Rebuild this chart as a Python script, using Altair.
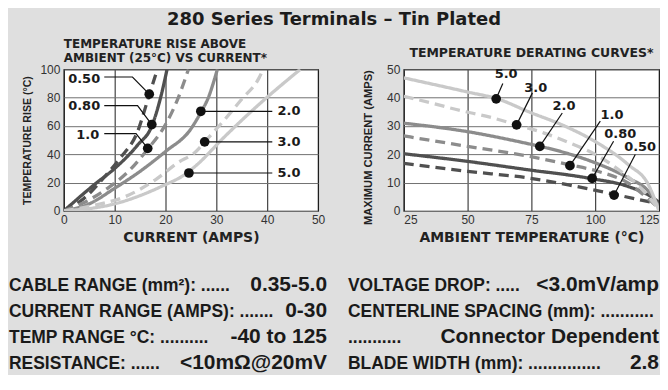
import altair as alt
import pandas as pd

# ---------------- data ----------------
SERIES = ["0.50", "0.80", "1.0", "2.0", "3.0", "5.0"]
SERIES_COLORS = ["#505050", "#505050", "#8c8c8c", "#8c8c8c", "#c9c9c9", "#c9c9c9"]
LEFT_DASH = [[10, 6], [1, 0], [10, 6], [1, 0], [10, 6], [1, 0]]
RIGHT_DASH = [[14, 9], [1, 0], [14, 9], [1, 0], [14, 9], [1, 0]]

# Temperature rise (°C) vs current (A)
rise_cur_050 = [0, 4, 8, 11, 14.5, 16.8, 18.4]
rise_tmp_050 = [0, 9, 24, 37, 56, 82, 100]
rise_cur_080 = [0, 6, 10, 14.5, 17.3, 19.1, 20.3]
rise_tmp_080 = [0, 18.6, 30, 46.5, 60, 81, 100]
rise_cur_100 = [0, 4, 8.6, 13, 16.5, 19.5, 22.4, 24.5]
rise_tmp_100 = [0, 6, 16, 29, 43.7, 58, 79, 100]
rise_cur_200 = [0, 5, 10, 15, 20, 25, 27, 28.3, 30.2]
rise_tmp_200 = [0, 5, 16, 28, 42, 58, 70, 79, 100]
rise_cur_300 = [0, 6, 12, 18, 22.4, 26, 27.7, 31.5, 35, 38.4, 39.2]
rise_tmp_300 = [0, 4, 10, 22, 34, 42, 48.8, 64, 79, 94, 100]
rise_cur_500 = [0, 10, 19, 24.3, 26.3, 31.5, 38, 46.5]
rise_tmp_500 = [0, 5, 17, 27, 33, 52, 74, 100]

# Maximum current (A) vs ambient temperature (°C)
der_tmp_050 = [25, 50, 74, 89.5, 107, 117, 125]
der_cur_050 = [16.8, 14, 11.6, 9.2, 6, 4, 2.5]
der_tmp_080 = [25, 50, 74, 98, 113, 122, 125]
der_cur_080 = [20.2, 17.5, 14.5, 11.5, 8.6, 5, 3]
der_tmp_100 = [25, 50, 74, 90, 101, 113, 122, 125]
der_cur_100 = [26.5, 22.8, 19.3, 16.3, 14, 9.8, 3.3, 1]
der_tmp_200 = [25, 50, 75, 78.5, 91, 100, 113, 121, 125]
der_cur_200 = [31, 28, 23.5, 22.8, 19.8, 17, 11.6, 6.8, 1.5]
der_tmp_300 = [25, 35, 47, 58, 69, 80, 90, 100, 110, 118, 125]
der_cur_300 = [40.5, 38.3, 35.5, 33.3, 30.5, 27.5, 24, 20, 14, 8, 0.5]
der_tmp_500 = [25, 50, 62, 74, 88, 100, 113, 121, 125]
der_cur_500 = [47, 42, 39.5, 35, 30, 24.5, 16.3, 9, 0]

# Left callouts (label, label position, dot, leader path)
rise_lbl = ["0.50", "0.80", "1.0", "2.0", "3.0", "5.0"]
rise_lbl_x = [4.0, 4.0, 4.7, 44.3, 44.3, 44.3]
rise_lbl_y = [93.0, 73.9, 53.4, 70.4, 48.8, 26.8]
rise_dot_x = [16.8, 17.3, 16.5, 26.95, 27.7, 24.6]
rise_dot_y = [82.5, 61.0, 44.2, 70.4, 48.8, 26.8]
rise_lead_x = [[7.95, 13.5, 16.8], [7.95, 14.5, 17.3], [7.95, 14.2, 16.5],
               [26.95, 41.0], [27.7, 41.0], [24.6, 41.0]]
rise_lead_y = [[94.6, 94.6, 82.5], [74.4, 74.4, 61.0], [54.6, 54.6, 44.2],
               [70.4, 70.4], [48.8, 48.8], [26.8, 26.8]]

# Right callouts
der_lbl = ["5.0", "3.0", "2.0", "1.0", "0.80", "0.50"]
der_lbl_x = [65.1, 76.7, 87.8, 106.6, 109.8, 117.6]
der_lbl_y = [48.2, 43.5, 37.0, 34.0, 27.3, 22.6]
der_dot_x = [61.2, 69.2, 78.3, 90.1, 98.8, 107.4]
der_dot_y = [39.6, 30.4, 22.8, 16.0, 11.5, 5.6]
der_end_x = [63.8, 75.4, 87.1, 102.0, 107.2, 115.7]
der_end_y = [45.0, 41.7, 34.6, 31.7, 24.6, 19.9]

# Specification text
spec_left_labels = ["CABLE RANGE (mm²): ......", "CURRENT RANGE (AMPS): .......",
                    "TEMP RANGE °C: ..........", "RESISTANCE: ......"]
spec_left_values = ["0.35-5.0", "0-30", "-40 to 125", "<10mΩ@20mV"]
spec_right_labels = ["VOLTAGE DROP: .....", "CENTERLINE SPACING (mm): ...........",
                     "...........", "BLADE WIDTH (mm): ..............."]
spec_right_values = ["<3.0mV/amp", "", "Connector Dependent", "2.8"]

TITLE = "280 Series Terminals – Tin Plated"

# ---------------- build tables ----------------
rise_x = [rise_cur_050, rise_cur_080, rise_cur_100, rise_cur_200, rise_cur_300, rise_cur_500]
rise_y = [rise_tmp_050, rise_tmp_080, rise_tmp_100, rise_tmp_200, rise_tmp_300, rise_tmp_500]
der_x = [der_tmp_050, der_tmp_080, der_tmp_100, der_tmp_200, der_tmp_300, der_tmp_500]
der_y = [der_cur_050, der_cur_080, der_cur_100, der_cur_200, der_cur_300, der_cur_500]


def curve_df(xs_list, ys_list):
    rows = []
    for s, xs, ys in zip(SERIES, xs_list, ys_list):
        for i, (x, y) in enumerate(zip(xs, ys)):
            rows.append({"series": s, "x": x, "y": y, "i": i})
    return pd.DataFrame(rows)


rise_df = curve_df(rise_x, rise_y)
der_df = curve_df(der_x, der_y)

rise_pts = pd.DataFrame({"label": rise_lbl, "lx": rise_lbl_x, "ly": rise_lbl_y,
                         "dx": rise_dot_x, "dy": rise_dot_y})
rise_lead = pd.DataFrame([{"label": l, "x": x, "y": y, "i": i}
                          for l, xs, ys in zip(rise_lbl, rise_lead_x, rise_lead_y)
                          for i, (x, y) in enumerate(zip(xs, ys))])

der_pts = pd.DataFrame({"label": der_lbl, "lx": der_lbl_x, "ly": der_lbl_y,
                        "dx": der_dot_x, "dy": der_dot_y})
der_lead = pd.DataFrame([{"label": l, "x": x, "y": y, "i": i}
                         for l, xs, ys in zip(der_lbl, [[a, b] for a, b in zip(der_dot_x, der_end_x)],
                                              [[a, b] for a, b in zip(der_dot_y, der_end_y)])
                         for i, (x, y) in enumerate(zip(xs, ys))])

spec_left = pd.DataFrame({"row": range(4), "label": spec_left_labels, "value": spec_left_values})
spec_right = pd.DataFrame({"row": range(4), "label": spec_right_labels, "value": spec_right_values})

# ---------------- styling ----------------
LBL_FONT = "Liberation Sans"
BOLD_WIDE = "DejaVu Sans"
SPEC_FONT = "Liberation Sans"
ROW0_Y = 222
ROW_STEP = 26.3


def spec_layers(spec, lx, vx):
    out = []
    for r in range(len(spec)):
        y = ROW0_Y + ROW_STEP * r
        base = alt.Chart(spec).transform_filter(alt.datum.row == r)
        out.append(base.mark_text(align="left", baseline="alphabetic", font=SPEC_FONT,
                                  fontWeight="bold", fontSize=17.5, color="#1a1a1a").encode(
            x=alt.value(lx), y=alt.value(y), text="label:N"))
        if spec["value"].iloc[r]:
            out.append(base.mark_text(align="right", baseline="alphabetic", font=SPEC_FONT,
                                      fontWeight="bold", fontSize=21, color="#1a1a1a").encode(
                x=alt.value(vx), y=alt.value(y), text="value:N"))
    return out


def panel(curves, pts, lead, spec, xdom, xvals, ydom, yvals, xtitle, ytitle,
          title, dash, width, height, flush, ytp, ytsize, ytitle_y, spec_lx, spec_vx):
    xax = alt.Axis(values=xvals, tickCount=20, title=xtitle, grid=True, gridColor="#1e1e1e",
                   gridWidth=1, domain=False, ticks=False, labelPadding=4, labelFontSize=12,
                   labelFont=LBL_FONT, labelColor="#333", labelFlush=flush,
                   titleFont=BOLD_WIDE, titleFontWeight="bold", titleFontSize=14,
                   titleColor="#222", titlePadding=5)
    yax_kw = dict(values=yvals, tickCount=20, title=ytitle, grid=True, gridColor="#707070",
                  gridWidth=1, domain=False, ticks=False, labelPadding=4, labelFontSize=12,
                  labelFont=LBL_FONT, labelColor="#333",
                  titleFont=LBL_FONT, titleFontWeight="bold", titleFontSize=ytsize,
                  titleColor="#222", titlePadding=ytp)
    if ytitle_y is not None:
        yax_kw["titleY"] = ytitle_y
    yax = alt.Axis(**yax_kw)
    X = alt.X("x:Q", scale=alt.Scale(domain=xdom, nice=False, zero=False), axis=xax)
    Y = alt.Y("y:Q", scale=alt.Scale(domain=ydom, nice=False), axis=yax)

    lines = alt.Chart(curves).mark_line(interpolate="monotone", strokeWidth=3.3, clip=True).encode(
        x=X, y=Y,
        color=alt.Color("series:N", scale=alt.Scale(domain=SERIES, range=SERIES_COLORS), legend=None),
        strokeDash=alt.StrokeDash("series:N", scale=alt.Scale(domain=SERIES, range=dash), legend=None),
        detail="series:N",
        order="i:Q",
    )
    leaders = alt.Chart(lead).mark_line(color="#111", strokeWidth=1.2).encode(
        x="x:Q", y="y:Q", detail="label:N", order="i:Q")
    dots = alt.Chart(pts).mark_circle(size=95, color="#111", opacity=1).encode(
        x="dx:Q", y="dy:Q")
    labels = alt.Chart(pts).mark_text(font=BOLD_WIDE, fontWeight="bold", fontSize=13,
                                      color="#1a1a1a").encode(
        x="lx:Q", y="ly:Q", text="label:N")

    return alt.layer(lines, leaders, dots, labels, *spec_layers(spec, spec_lx, spec_vx)).properties(
        width=width, height=height, title=title)


left = panel(rise_df, rise_pts, rise_lead, spec_left, [0, 50], [0, 10, 20, 30, 40, 50],
             [0, 100], [0, 20, 40, 60, 80, 100], "CURRENT (AMPS)", "TEMPERATURE RISE (°C)",
             alt.TitleParams(["TEMPERATURE RISE ABOVE", "AMBIENT (25°C) VS CURRENT*"],
                             anchor="start", frame="group", font=BOLD_WIDE, fontWeight="bold",
                             fontSize=12, lineHeight=14, color="#222", baseline="bottom", offset=-14),
             LEFT_DASH, 255, 142, False, 7, 10.6, None, -55, 264)

right = panel(der_df, der_pts, der_lead, spec_right, [25, 125], [25, 50, 75, 100, 125],
              [0, 50], [0, 10, 20, 30, 40, 50], "AMBIENT TEMPERATURE (°C)", "MAXIMUM CURRENT (AMPS)",
              alt.TitleParams("TEMPERATURE DERATING CURVES*", anchor="middle", frame="group",
                              font=BOLD_WIDE, fontWeight="bold", fontSize=12.5, color="#222",
                              baseline="bottom", offset=-9),
              RIGHT_DASH, 256, 142, True, 13, 11.2, 78, -56, 256)

chart = alt.hconcat(left, right, spacing=86, bounds="flush").properties(
    title=alt.TitleParams(TITLE, anchor="middle", font=BOLD_WIDE, fontWeight="bold",
                          fontSize=18, color="#1c1c1c", offset=9),
    padding={"left": 0, "top": 2, "right": 0, "bottom": 0},
    background="#dfdfdf",
).configure_view(fill="white", stroke="#222", strokeWidth=1.2)

chart.save("out.html", embed_options={"renderer": "svg", "actions": False})
